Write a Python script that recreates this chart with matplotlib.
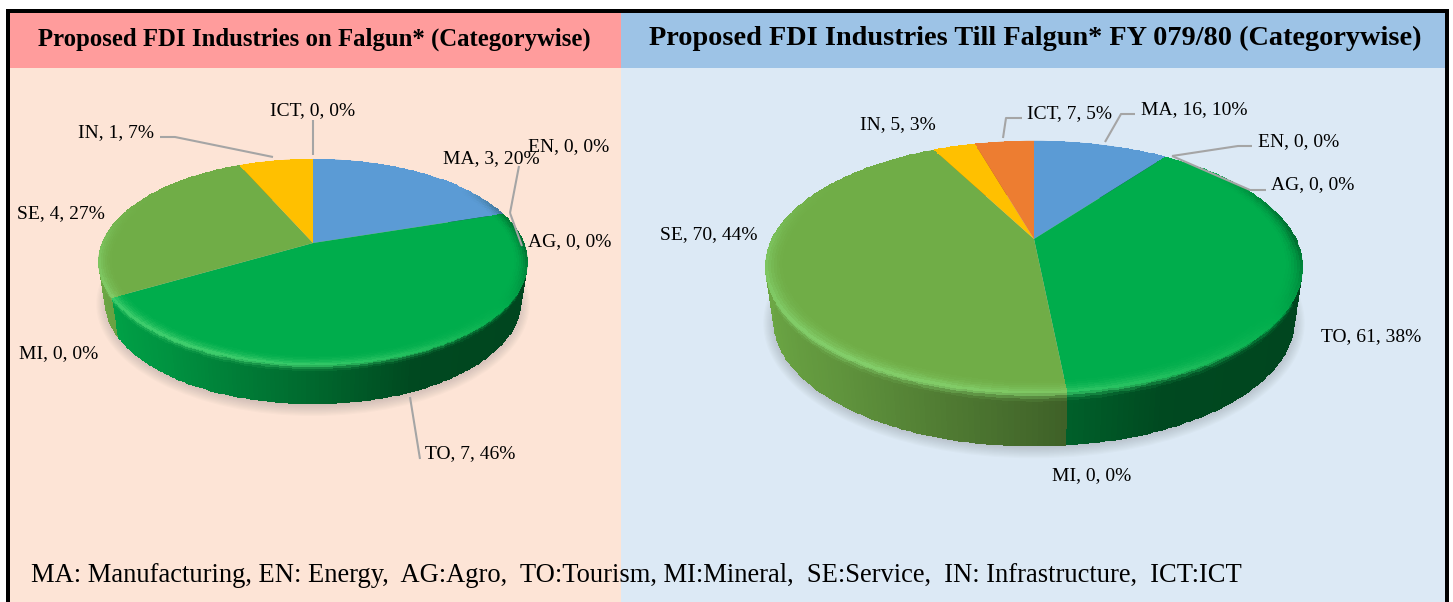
import numpy as np
import matplotlib
matplotlib.use('Agg')
import matplotlib.pyplot as plt
from matplotlib.patches import Rectangle, Ellipse
from matplotlib.transforms import Transform

# chart data
categories = ['MA', 'EN', 'AG', 'TO', 'MI', 'SE', 'IN', 'ICT']
left_values = [3, 0, 0, 7, 0, 4, 1, 0]
right_values = [16, 0, 0, 61, 0, 70, 5, 7]
left_pct = [20, 0, 0, 46, 0, 27, 7, 0]
right_pct = [10, 0, 0, 38, 0, 44, 3, 5]
slice_colors = ['#5B9BD5', '#ED7D31', '#A5A5A5', '#00AD4C', '#4472C4', '#70AD47', '#FFC000', '#ED7D31']

left_title = 'Proposed FDI Industries on Falgun* (Categorywise)'
right_title = 'Proposed FDI Industries Till Falgun* FY 079/80 (Categorywise)'
footer = 'MA: Manufacturing, EN: Energy,  AG:Agro,  TO:Tourism, MI:Mineral,  SE:Service,  IN: Infrastructure,  ICT:ICT'

FONT = 'Liberation Serif'


# maps the unit circle of the pie onto a tilted disc (perspective)
class Tilt(Transform):
    input_dims = 2
    output_dims = 2

    def __init__(self, cx, cy, d, a, c):
        super().__init__()
        self.cx, self.cy, self.d, self.a, self.c = cx, cy, d, a, c

    def transform_non_affine(self, values):
        values = np.asarray(values)
        den = 1 + self.c * values[:, 1]
        return np.column_stack([self.cx + self.d * values[:, 0] / den,
                                self.cy - self.a * values[:, 1] / den])


def mix(rgb, other, amount):
    amount = np.clip(amount, 0, 1)[..., None]
    return rgb * (1 - amount) + np.asarray(other) * amount


def light(theta):
    # + is highlight on the front left, - is shadow on the right, back stays flat
    h = np.cos(np.radians(theta - 235))
    return h * np.clip((0.6 - np.sin(np.radians(theta))) / 0.6, 0, 1)


def edge_color(base, theta):
    h = light(theta)
    col = mix(base, (0.62, 1.0, 0.62), 0.45 * np.clip(h, 0, 1))
    return mix(col, (0, 0.12, 0.05), 0.85 * np.clip(-h, 0, 1))


def side_color(base, theta):
    f = np.interp(np.cos(np.radians(theta)), [-1, -0.6, 0, 0.4, 1], [0.97, 0.85, 0.6, 0.42, 0.4])
    return base * f[..., None]


def draw_pie(ax, values, cx, cy, d, a, c, depth):
    tilt = Tilt(cx, cy, d, a, c)

    # soft shadow under the pie
    front = cy + a / (1 - c)
    top = cy - a / (1 + c)
    ry = (front - top) / 2
    rx = d / np.sqrt(1 - c ** 2)
    for k in range(10):
        ax.add_patch(Ellipse((cx, top + ry + depth + 3), 2 * rx + 4 - k * 2.5, 2 * ry + 18 - k * 2.5,
                             fc='#6b6b70', ec='none', alpha=0.03, zorder=2))

    wedges, _ = ax.pie(values, startangle=90, counterclock=False, colors=slice_colors,
                       wedgeprops=dict(linewidth=0))
    ax.set_aspect('auto')
    ax.set_xlim(0, 1453)
    ax.set_ylim(602, 0)

    for w, col in zip(wedges, slice_colors):
        w.set_transform(tilt + ax.transData)
        w.set_zorder(4)
        if w.theta2 - w.theta1 < 1e-6:
            continue
        base = np.array(matplotlib.colors.to_rgb(col))
        n = max(int(w.theta2 - w.theta1), 2)
        theta = np.linspace(w.theta1, w.theta2, n)
        u, v = np.cos(np.radians(theta)), np.sin(np.radians(theta))

        # side of the disc
        ts = np.linspace(0, 1, 20)
        T, S = np.meshgrid(theta, ts)
        p = tilt.transform(np.column_stack([u, v]))
        px = cx + (p[:, 0] - cx) * (1 - 0.03 * ts[:, None])
        py = p[:, 1] + depth * ts[:, None]
        tc = (T[:-1, :-1] + T[1:, 1:]) / 2
        sc = (S[:-1, :-1] + S[1:, 1:]) / 2
        colors = mix(side_color(base, tc), edge_color(base, tc), (1 - sc / 0.2) ** 2 * (sc < 0.2))
        ax.pcolormesh(px, py, colors, shading='flat', zorder=3, linewidth=0, rasterized=True)

        # bevel on the top surface
        rs = np.linspace(0.93, 1.0, 8)
        R = rs[:, None]
        q = tilt.transform(np.column_stack([(R * u).ravel(), (R * v[None, :]).ravel()]))
        qx = q[:, 0].reshape(len(rs), n)
        qy = q[:, 1].reshape(len(rs), n)
        tc = (theta[:-1] + theta[1:]) / 2 * np.ones((len(rs) - 1, n - 1))
        rc = ((rs[:-1] + rs[1:]) / 2)[:, None] * np.ones((1, n - 1))
        colors = mix(np.broadcast_to(base, tc.shape + (3,)), edge_color(base, tc), ((rc - 0.93) / 0.07) ** 2)
        ax.pcolormesh(qx, qy, colors, shading='flat', zorder=5, linewidth=0)


def pie_text(ax, values, pct, positions):
    for name, val, p, pos in zip(categories, values, pct, positions):
        ax.text(pos[0], pos[1] + 1, f'{name}, {val}, {p}%', ha='left', va='center',
                fontsize=14, family=FONT, color='black', zorder=8)


def leader(ax, xs, ys):
    ax.plot(xs, ys, color='#A5A5A5', lw=1.5, zorder=7, solid_capstyle='butt', solid_joinstyle='round')


fig = plt.figure(figsize=(14.53, 6.02), dpi=100)
ax = fig.add_axes([0, 0, 1, 1])
ax.axis('off')

# panels
ax.add_patch(Rectangle((10, 68), 611, 534, fc='#FDE4D6', ec='none', zorder=1))
ax.add_patch(Rectangle((621, 68), 824, 534, fc='#DCE9F5', ec='none', zorder=1))
ax.add_patch(Rectangle((10, 13), 611, 55, fc='#FF9C9C', ec='none', zorder=1))
ax.add_patch(Rectangle((621, 13), 824, 55, fc='#9DC3E6', ec='none', zorder=1))
# black frame, no bottom edge
ax.add_patch(Rectangle((6, 9), 1442, 4, fc='black', ec='none', zorder=1))
ax.add_patch(Rectangle((6, 9), 4, 593, fc='black', ec='none', zorder=1))
ax.add_patch(Rectangle((1445, 9), 4, 593, fc='black', ec='none', zorder=1))

draw_pie(ax, left_values, 313, 243, 211, 99.5, 0.1845, 39)
draw_pie(ax, right_values, 1034, 239, 262, 120, 0.222, 53)

ax.text(314, 39, left_title, ha='center', va='center', fontsize=17.8, fontweight='bold', family=FONT, zorder=8)
ax.text(1035, 38, right_title, ha='center', va='center', fontsize=20.3, fontweight='bold', family=FONT, zorder=8)
ax.text(31, 576, footer, ha='left', va='center', fontsize=19.1, family=FONT, color='black', zorder=8)

# label spots, same order as categories
left_pos = [(443, 158), (528, 146), (528, 241), (425, 453), (19, 353), (17, 213), (78, 132), (270, 110)]
right_pos = [(1141, 109), (1258, 141), (1271, 184), (1321, 336), (1052, 475), (660, 234), (860, 124), (1027, 113)]
pie_text(ax, left_values, left_pct, left_pos)
pie_text(ax, right_values, right_pct, right_pos)

leader(ax, [160, 175, 273], [137, 137, 157])
leader(ax, [313, 313], [120, 155])
leader(ax, [519, 510], [166, 213])
leader(ax, [510, 522], [213, 246])
leader(ax, [410, 420], [397, 459])
leader(ax, [1022, 1006, 1003], [118, 118, 138])
leader(ax, [1135, 1121, 1105], [114, 114, 142])
leader(ax, [1252, 1238, 1172], [146, 146, 156])
leader(ax, [1266, 1250, 1172], [190, 190, 156])

fig.savefig('out.png', dpi=100, facecolor='white')
